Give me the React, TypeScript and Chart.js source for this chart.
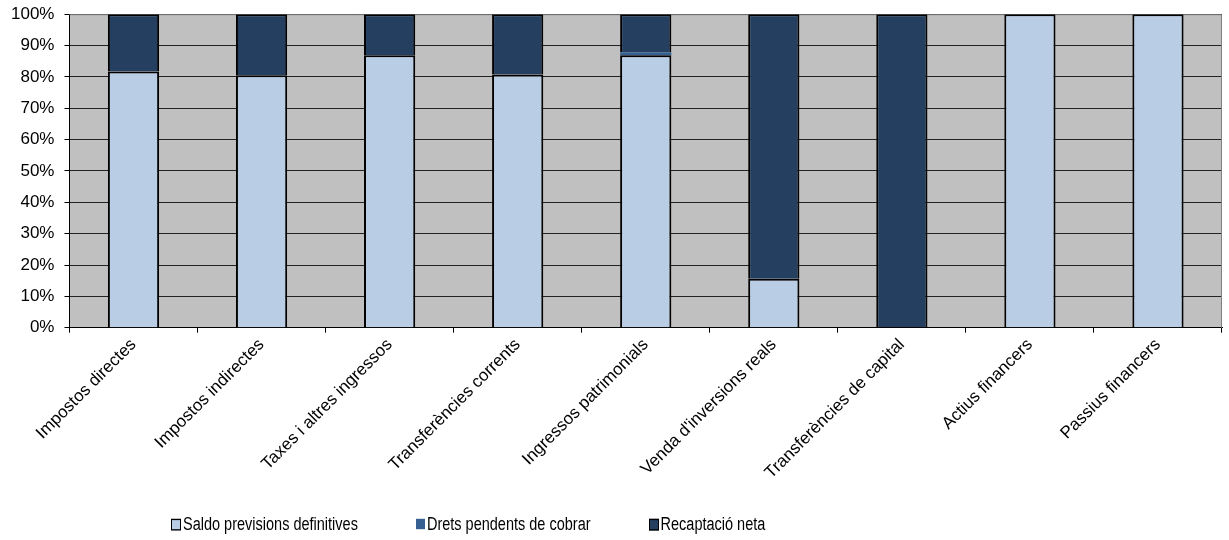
import React, { useEffect, useRef } from "react";
import { Chart, registerables } from "chart.js";

Chart.register(...registerables);

const categories = [
  "Impostos directes",
  "Impostos indirectes",
  "Taxes i altres ingressos",
  "Transferències corrents",
  "Ingressos patrimonials",
  "Venda d'inversions reals",
  "Transferències de capital",
  "Actius financers",
  "Passius financers",
];

const saldoPrevisions = [81.7, 80.5, 86.9, 80.8, 86.9, 15.6, 0, 100, 100];
const dretsPendents = [0, 0, 0, 0, 1.0, 0, 0, 0, 0];
const recaptacioNeta = [18.3, 19.5, 13.1, 19.2, 12.1, 84.4, 100, 0, 0];

const yTicks = [0, 10, 20, 30, 40, 50, 60, 70, 80, 90, 100];

const seriesNames = ["Saldo previsions definitives", "Drets pendents de cobrar", "Recaptació neta"];
const seriesColors = ["#B9CDE5", "#376092", "#243F60"];
const seriesBorders = [true, false, true];

const FONT = "'Liberation Sans', Arial, sans-serif";

const plotBg = {
  id: "plotBg",
  beforeDraw(chart: any) {
    const { ctx, chartArea } = chart;
    ctx.save();
    ctx.fillStyle = "#C0C0C0";
    ctx.fillRect(chartArea.left, chartArea.top, chartArea.right - chartArea.left, chartArea.bottom - chartArea.top);
    ctx.restore();
  },
  beforeDatasetsDraw(chart: any) {
    const { ctx, chartArea } = chart;
    ctx.save();
    ctx.strokeStyle = "#808080";
    ctx.lineWidth = 1;
    ctx.beginPath();
    ctx.moveTo(chartArea.left, chartArea.top + 0.5);
    ctx.lineTo(chartArea.right - 0.5, chartArea.top + 0.5);
    ctx.lineTo(chartArea.right - 0.5, chartArea.bottom);
    ctx.stroke();
    ctx.restore();
  },
};

export default function App() {
  const ref = useRef<HTMLCanvasElement | null>(null);

  useEffect(() => {
    if (!ref.current) return;
    const data = [saldoPrevisions, dretsPendents, recaptacioNeta];
    const chart = new Chart(ref.current, {
      type: "bar",
      data: {
        labels: categories,
        datasets: data.map((d, i) => ({
          label: seriesNames[i],
          data: d,
          backgroundColor: seriesColors[i],
          borderColor: "#000000",
          borderWidth: seriesBorders[i] ? 2 : 0,
          barPercentage: 0.4,
          categoryPercentage: 1,
        })),
      },
      options: {
        responsive: false,
        animation: false,
        maintainAspectRatio: false,
        layout: { padding: { left: 1, right: 7, top: 1, bottom: 49 } },
        plugins: {
          legend: { display: false },
          tooltip: { enabled: false },
        },
        scales: {
          x: {
            stacked: true,
            grid: {
              display: true,
              drawOnChartArea: false,
              drawTicks: true,
              tickLength: 5,
              tickColor: "#000000",
              offset: true,
            },
            border: { display: true, color: "#000000", width: 1 },
            ticks: {
              color: "#000000",
              font: { family: FONT, size: 17 },
              maxRotation: 45,
              minRotation: 45,
              autoSkip: false,
              padding: 2,
            },
          },
          y: {
            stacked: true,
            min: 0,
            max: 100,
            afterBuildTicks(axis: any) {
              axis.ticks = yTicks.map((v) => ({ value: v }));
            },
            grid: {
              color: "#222222",
              lineWidth: 1,
              drawTicks: true,
              tickLength: 5,
              tickColor: "#000000",
            },
            border: { display: true, color: "#000000", width: 1 },
            ticks: {
              color: "#000000",
              font: { family: FONT, size: 17 },
              padding: 10,
              callback: (v: any) => `${v}%`,
            },
          },
        },
      },
      plugins: [plotBg],
    });
    return () => chart.destroy();
  }, []);

  return (
    <div style={{ position: "fixed", left: 0, top: 0, width: 1229, height: 540, background: "#fff", overflow: "hidden" }}>
      <canvas
        ref={ref}
        width={1229}
        height={540}
        style={{ display: "block", position: "absolute", left: 0, top: -6, width: 1229, height: 540 }}
      />
      <div
        style={{
          position: "absolute",
          left: 171,
          top: 516,
          display: "flex",
          gap: 58,
          fontFamily: FONT,
          fontSize: 14.5,
          color: "#000",
          whiteSpace: "nowrap",
          transform: "scaleY(1.3)",
          transformOrigin: "center",
        }}
      >
        {seriesNames.map((n, i) => (
          <div key={n} style={{ display: "flex", alignItems: "center" }}>
            <span
              style={{
                display: "inline-block",
                width: seriesBorders[i] ? 8 : 9,
                height: seriesBorders[i] ? 7 : 8,
                background: seriesColors[i],
                border: seriesBorders[i] ? "1px solid #000" : "none",
                marginRight: 2,
              }}
            />
            <span>{n}</span>
          </div>
        ))}
      </div>
    </div>
  );
}
